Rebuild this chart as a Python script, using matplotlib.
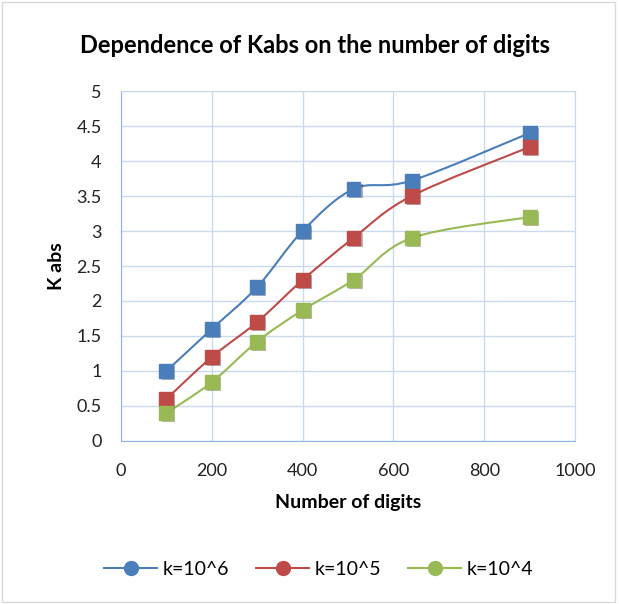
import numpy as np
import matplotlib
matplotlib.use("Agg")
import matplotlib.pyplot as plt
from matplotlib.path import Path
from matplotlib.patches import PathPatch, Rectangle
from matplotlib.lines import Line2D
import matplotlib.patheffects as pe

# Data
digits = [100, 200, 300, 400, 512, 640, 900]
k6 = [1.0, 1.6, 2.2, 3.0, 3.6, 3.72, 4.4]
k5 = [0.6, 1.2, 1.7, 2.3, 2.9, 3.5, 4.2]
k4 = [0.4, 0.84, 1.42, 1.87, 2.3, 2.9, 3.2]
labels = ["k=10^6", "k=10^5", "k=10^4"]
colors = ["#4A7EBB", "#BE4B48", "#98B954"]

plt.rcParams["font.family"] = ["Lato", "DejaVu Sans"]


def smooth_path(x, y):
    # Excel-style smoothed line: cubic Bezier through each point
    x = np.asarray(x, float)
    y = np.asarray(y, float)
    n = len(x)
    verts = [(x[0], y[0])]
    codes = [Path.MOVETO]
    for i in range(n - 1):
        p0 = np.array([x[max(i - 1, 0)], y[max(i - 1, 0)]])
        p1 = np.array([x[i], y[i]])
        p2 = np.array([x[i + 1], y[i + 1]])
        p3 = np.array([x[min(i + 2, n - 1)], y[min(i + 2, n - 1)]])
        c1 = p1 + (p2 - p0) / 6
        c2 = p2 - (p3 - p1) / 6
        verts += [tuple(c1), tuple(c2), tuple(p2)]
        codes += [Path.CURVE4] * 3
    return Path(verts, codes)


fig = plt.figure(figsize=(6.19, 6.04), dpi=100)
ax = fig.add_axes([0.1955, 0.2699, 0.7335, 0.5794])

shadow = [pe.SimplePatchShadow(offset=(1.5, -1.5), alpha=0.35), pe.Normal()]
for ys, c in zip([k6, k5, k4], colors):
    ax.add_patch(PathPatch(smooth_path(digits, ys), fill=False, edgecolor=c,
                           lw=1.5, zorder=3))
    ax.plot(digits, ys, ls="none", marker="s", ms=10, color=c, mec=c,
            zorder=4, path_effects=shadow)

ax.set_xlim(0, 1000)
ax.set_ylim(0, 5)
ax.set_xticks(np.arange(0, 1001, 200))
ax.set_yticks(np.arange(0, 5.01, 0.5))
ax.set_yticklabels(["0", "0.5", "1", "1.5", "2", "2.5", "3", "3.5", "4", "4.5", "5"])
ax.grid(True, color="#C9D9EE", lw=1)
ax.set_axisbelow(True)
for s in ax.spines.values():
    s.set_color("#C9D9EE")
ax.spines["left"].set_color("#8EB4E3")
ax.spines["bottom"].set_color("#8EB4E3")
ax.tick_params(length=0, labelsize=13, colors="#222222")
ax.tick_params(axis="x", pad=16)
ax.tick_params(axis="y", pad=14)

fig.text(0.509, 0.924, "Dependence of Kabs on the number of digits",
         ha="center", va="center", fontsize=17, fontweight="bold")
ax.set_xlabel("Number of digits", fontsize=14, fontweight="bold", labelpad=11)
ax.set_ylabel("K abs", fontsize=14, fontweight="bold", labelpad=8)

handles = [Line2D([], [], color=c, marker="o", ms=10, lw=1.5) for c in colors]
fig.legend(handles, labels, loc="center", bbox_to_anchor=(0.515, 0.057),
           ncol=3, frameon=False, fontsize=14, handlelength=2.7,
           columnspacing=1.4, handletextpad=0.3)

fig.add_artist(Rectangle((0.004, 0.004), 0.99, 0.992, transform=fig.transFigure,
                         fill=False, edgecolor="#D9D9D9", lw=1))

fig.savefig("out.png", dpi=100)
